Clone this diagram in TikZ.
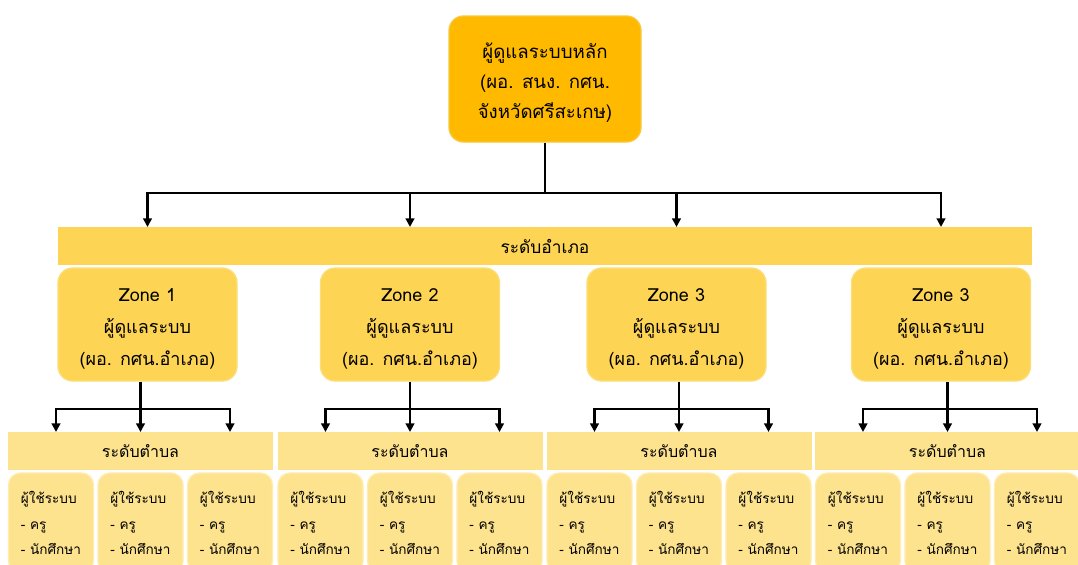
\documentclass[tikz,border=0pt]{standalone}
\usepackage{fontspec}
\setmainfont[Script=Thai]{Loma}
\usepackage{xcolor}
\usetikzlibrary{arrows.meta,positioning}

\definecolor{chieffill}{RGB}{255,186,0}
\definecolor{chiefedge}{RGB}{247,200,60}
\definecolor{zonefill}{RGB}{253,212,84}
\definecolor{zoneedge}{RGB}{252,222,120}
\definecolor{userfill}{RGB}{254,227,142}
\definecolor{useredge}{RGB}{255,236,175}

\begin{document}
\begin{tikzpicture}[
    x=0.75pt, y=-0.75pt,
    chief/.style={
      draw=chiefedge,
      line width=1pt,
      fill=chieffill,
      rounded corners=11pt,
      align=center,
      minimum width=144pt,
      minimum height=94.5pt,
      font=\fontsize{14pt}{22.5pt}\selectfont
    },
    band/.style={
      fill=zonefill,
      minimum height=28.5pt,
      outer sep=0pt,
      font=\fontsize{13pt}{16pt}\selectfont
    },
    zonebox/.style={
      draw=zoneedge,
      line width=1pt,
      fill=zonefill,
      rounded corners=11pt,
      align=center,
      minimum width=134.25pt,
      minimum height=84.75pt,
      font=\fontsize{13.5pt}{24pt}\selectfont
    },
    subband/.style={
      fill=userfill,
      minimum width=198.75pt,
      minimum height=28.5pt,
      outer sep=0pt,
      font=\fontsize{12pt}{15pt}\selectfont
    },
    userbox/.style={
      draw=useredge,
      line width=1pt,
      fill=userfill,
      rounded corners=9pt,
      align=left,
      minimum width=63.75pt,
      minimum height=75pt,
      font=\fontsize{10.2pt}{19pt}\selectfont
    },
    link/.style={line width=1.8pt},
    flow/.style={-{Triangle[length=6.5pt,width=6.5pt]},line width=1.8pt}
  ]
    \fill[white] (0,0) rectangle (1078,564);
    \useasboundingbox (0,0) rectangle (1078,564);

    \node[chief] (chief) at (545,79) {\rule{0pt}{17pt}ผู้ดูแลระบบหลัก\\(ผอ. สนง. กศน.\\จังหวัดศรีสะเกษ)};
    \node[band,minimum width=730.5pt] (amphoe) at (545,246) {ระดับอำเภอ};
    \coordinate (split) at (545,193);
    \draw[link] (chief.south) -- (split);

    \foreach \g/\zx/\tx/\zname in {1/147.5/140.5/Zone 1,2/410/410/Zone 2,3/676.5/679/Zone 3,4/941/947.5/Zone 3} {
      % zone level
      \node[zonebox] (z\g) at (\zx,324.5) {\rule{0pt}{17pt}\zname\\ผู้ดูแลระบบ\\(ผอ. กศน.อำเภอ)};
      \draw[flow] (split) -| (amphoe.north -| z\g.north);
      % tambon level
      \node[subband] (t\g) at (\tx,451) {ระดับตำบล};
      \node[userbox] (u\g a) at (\tx-89.5,523) {ผู้ใช้ระบบ\\- ครู\\- นักศึกษา};
      \node[userbox] (u\g b) at (\tx,523) {ผู้ใช้ระบบ\\- ครู\\- นักศึกษา};
      \node[userbox] (u\g c) at (\tx+89.5,523) {ผู้ใช้ระบบ\\- ครู\\- นักศึกษา};
      \coordinate (fork\g) at (\tx,409);
      \draw[link] (z\g.south -| fork\g) -- (fork\g);
      \draw[flow] (fork\g) -| ([xshift=3.75pt]t\g.north -| u\g a.north);
      \draw[flow] (fork\g) -- (t\g.north);
      \draw[flow] (fork\g) -| (t\g.north -| u\g c.north);
    }
  \end{tikzpicture}
\end{document}
